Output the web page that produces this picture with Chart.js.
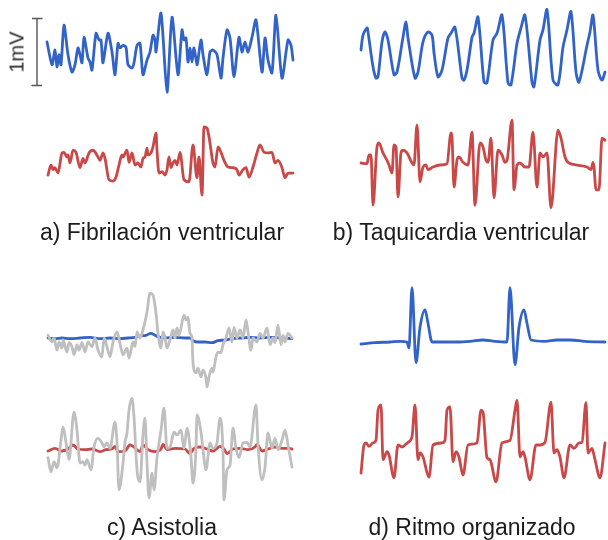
<!DOCTYPE html>
<html>
<head>
<meta charset="utf-8">
<script src="https://cdn.jsdelivr.net/npm/chart.js@4"></script>
<style>
  html, body { margin: 0; padding: 0; background: #fff; }
  #fig { position: relative; width: 608px; height: 540px; overflow: hidden; background: #fff; }
  #fig canvas { position: absolute; }
  .lbl { position: absolute; height: 28px; line-height: 28px; font-family: 'Liberation Sans', Arial, sans-serif;
         font-size: 23px; color: #1c1c1c; white-space: nowrap; transform: translateX(-50%); }
  #unit { position: absolute; left: 17px; top: 52px; font-family: 'Liberation Sans', Arial, sans-serif; font-size: 20px;
          color: #2a2a2a; white-space: nowrap; transform: translate(-50%, -50%) rotate(-90deg); }
</style>
</head>
<body>
<div id="fig">
  <canvas id="vfTop" width="276" height="160"></canvas>
  <canvas id="vfBot" width="276" height="160"></canvas>
  <canvas id="vtTop" width="276" height="160"></canvas>
  <canvas id="vtBot" width="276" height="160"></canvas>
  <canvas id="asTop" width="276" height="160"></canvas>
  <canvas id="asBot" width="276" height="160"></canvas>
  <canvas id="orTop" width="276" height="160"></canvas>
  <canvas id="orBot" width="276" height="160"></canvas>
  <div id="unit">1mV</div>
</div>
<script>
// ==================== DATA (time in ms, amplitude in mV) ====================
const PANEL_TITLES = ['a) Fibrilación ventricular', 'b) Taquicardia ventricular', 'c) Asistolia', 'd) Ritmo organizado'];

const scaleBarT = [-150, -50, -100, -100, -150, -50];
const scaleBarV = [0.5, 0.5, 0.5, -0.5, -0.5, -0.5];

// a) Fibrilacion ventricular
const vfBlueT = [0,50,80,100,120,140,170,210,250,280,310,330,350,370,410,430,450,490,520,540,560,610,650,680,710,730,760,790,810,850,870,900,930,960,1000,1030,1060,1080,1090,1140,1200,1250,1310,1350,1370,1390,1410,1430,1450,1470,1500,1510,1540,1560,1600,1630,1660,1700,1740,1760,1800,1830,1870,1920,1950,1980,2010,2050,2090,2150,2180,2210,2250,2290,2350,2410,2440,2460];
const vfBlueV = [0.15,-0.19,0.03,-0.22,-0.04,-0.19,0.40,-0.04,-0.30,-0.19,0.06,-0.04,-0.16,0.22,-0.09,-0.15,-0.27,0.28,0.18,0.18,-0.16,0.28,0,-0.34,0.13,0.06,0.10,0.07,-0.19,-0.24,-0.16,0.10,0.13,-0.34,-0.12,0,0.25,0.18,0,0.58,-0.60,0.52,-0.34,0.33,0.18,0.21,-0.15,0.06,-0.15,0.06,-0.19,-0.12,0.18,-0.04,-0.34,0,0.03,-0.04,-0.39,-0.09,0.33,0.21,-0.37,0.22,0,0.15,0,0.22,0.48,-0.30,0.21,-0.12,-0.31,0.55,-0.39,0.18,0.10,-0.12];
const vfRedT = [10,40,60,80,110,150,170,200,210,230,260,290,330,360,380,420,460,510,530,560,580,620,660,690,720,750,760,800,820,850,880,910,940,960,980,1000,1010,1040,1060,1090,1100,1120,1150,1180,1200,1220,1240,1260,1280,1300,1330,1370,1420,1460,1500,1520,1550,1570,1600,1620,1660,1680,1710,1740,1770,1810,1860,1900,1920,1960,1990,2020,2060,2100,2130,2170,2210,2250,2280,2310,2350,2380,2410,2460];
const vfRedV = [-0.18,-0.03,-0.10,-0.07,-0.15,0.15,0.16,0.09,0.12,0,0.19,0.16,-0.07,0.07,0,0.15,0.19,0.09,0.04,0.15,0.07,-0.25,-0.27,-0.21,-0.03,0.12,0.09,0.19,0.01,0.15,-0.03,0,-0.06,0.07,0.09,0.22,0.12,0.15,0.24,0.45,0.19,-0.15,-0.13,-0.18,-0.10,0.09,-0.07,0,0.04,-0.03,0.16,-0.25,-0.28,0.27,-0.22,0.09,-0.48,0.54,0.52,0.39,0,-0.06,0.24,0.16,0.04,-0.06,-0.07,-0.10,-0.18,-0.10,-0.07,-0.21,-0.06,0.15,0.27,0.16,0.15,0.16,0,0.04,-0.07,-0.22,-0.15,-0.15];

// b) Taquicardia ventricular
const vtBlueT = [0,20,60,70,120,150,170,210,240,270,330,360,420,450,470,540,570,620,670,710,730,770,810,870,900,940,1010,1030,1060,1110,1130,1170,1230,1260,1320,1360,1410,1470,1500,1560,1600,1640,1710,1730,1790,1820,1860,1920,1970,2020,2060,2100,2150,2180,2260,2290,2320,2370,2410,2440];
const vtBlueV = [0,0.22,0.33,0.27,-0.25,-0.42,-0.40,0.12,0.27,0.15,-0.37,-0.33,0.19,0.42,0.18,-0.42,-0.33,0.12,0.27,0.22,-0.04,-0.40,-0.30,0.18,0.25,0.34,-0.42,-0.45,-0.30,0.19,0.25,0.49,-0.48,-0.49,0.15,0.25,0.52,-0.49,-0.52,0.10,0.33,0.52,-0.48,-0.55,0.15,0.30,0.60,-0.45,-0.52,0.04,0.30,0.57,-0.33,-0.48,0.07,0.27,0.52,-0.30,-0.45,-0.33];
const vtRedT = [0,60,80,100,120,160,180,220,260,280,310,330,350,370,400,420,460,510,530,560,590,620,650,670,720,790,860,900,910,930,960,980,1020,1070,1110,1140,1190,1220,1250,1270,1300,1330,1370,1410,1440,1460,1510,1530,1560,1590,1640,1680,1720,1760,1790,1820,1860,1900,1970,2000,2040,2070,2160,2260,2300,2320,2330,2350,2380,2410,2440];
const vtRedV = [0,-0.01,0.12,0.12,-0.63,0.24,0.30,0.15,0.04,-0.03,-0.15,0.27,0.24,-0.51,0.15,0.19,0.15,0,-0.03,0.57,-0.28,-0.06,-0.03,-0.10,-0.06,-0.03,-0.01,0.45,0.39,-0.36,0.04,0.09,0.01,-0.03,0.46,-0.63,0.30,0.24,0.04,0.01,0.37,-0.52,0.19,0.12,0.01,0.04,0.64,-0.40,-0.03,0,-0.06,-0.06,0.46,-0.36,0.15,0.09,0.15,-0.67,0.49,0.37,0.09,0.01,-0.03,-0.06,-0.10,0.01,-0.06,-0.40,-0.40,0.37,0.34];

// c) Asistolia
const asBlueT = [10,80,150,230,330,430,530,630,730,810,880,930,990,1040,1080,1130,1180,1280,1380,1430,1460,1510,1580,1650,1710,1780,1850,1930,2030,2130,2230,2330,2450];
const asBlueV = [0,-0.01,0,-0.01,0,0.01,-0.01,0,-0.01,0,0.01,0.03,0.04,0.07,0.04,0.01,0,0.01,0,0,-0.04,-0.06,-0.06,-0.07,-0.04,-0.03,-0.01,0,0.01,0,0.01,0,-0.01];
const asGrayTopT = [10,50,70,100,120,150,160,200,220,250,270,300,320,350,380,410,450,480,510,550,570,600,630,660,700,740,760,800,820,860,880,900,930,960,1000,1030,1060,1090,1110,1140,1160,1180,1200,1230,1260,1280,1300,1320,1370,1390,1410,1430,1450,1460,1490,1510,1540,1560,1590,1600,1620,1650,1660,1690,1710,1740,1760,1790,1820,1850,1870,1900,1930,1960,1990,2010,2040,2060,2100,2130,2160,2200,2230,2260,2280,2310,2340,2360,2380,2410,2450];
const asGrayTopV = [0.04,-0.06,0,-0.18,-0.06,-0.15,-0.03,-0.21,-0.07,-0.13,-0.25,-0.10,-0.18,-0.07,-0.21,-0.06,-0.13,0,-0.18,-0.28,0,-0.13,-0.28,-0.06,0.09,-0.15,-0.25,-0.15,-0.30,-0.06,-0.13,0.09,0,0.12,0.39,0.67,0.64,0.37,0.07,-0.15,0.09,0.01,-0.15,-0.03,0.12,0,0.15,0.04,0.34,0.27,0.31,0.07,0,-0.37,-0.52,-0.45,-0.58,-0.48,-0.60,-0.73,-0.58,-0.45,-0.51,-0.28,-0.21,-0.22,-0.10,0,0.15,-0.06,0.16,0,0.12,0,0.27,0.09,-0.18,0,-0.06,0.07,0,0.15,-0.10,0,-0.07,0.19,-0.10,0.04,-0.06,0.07,0];
const asRedT = [10,80,150,210,260,310,380,450,530,590,650,680,710,780,830,870,930,960,1010,1080,1140,1160,1200,1280,1380,1430,1470,1530,1600,1660,1730,1770,1800,1860,1930,2010,2080,2100,2150,2210,2280,2350,2410,2450];
const asRedV = [-0.03,0.01,-0.03,0,0.06,0,-0.01,0,-0.04,-0.01,0,0.04,-0.04,-0.03,0.06,0.03,-0.04,0.06,-0.01,-0.04,0,0.07,-0.01,0.01,0,-0.07,0.01,0.03,0,-0.03,0.04,0,-0.07,0,0.01,-0.01,0.03,0.07,-0.03,0,0.03,0.01,0.01,0];
const asGrayBotT = [10,40,70,100,140,160,190,220,270,300,330,360,380,400,440,470,510,550,570,600,630,680,700,720,760,780,800,820,850,870,900,930,960,980,1000,1020,1050,1070,1100,1140,1170,1200,1230,1270,1300,1340,1370,1400,1440,1460,1490,1500,1540,1560,1590,1630,1660,1700,1730,1760,1770,1800,1830,1860,1890,1920,1960,2000,2030,2090,2110,2150,2180,2210,2250,2280,2310,2350,2380,2410,2450];
const asGrayBotV = [-0.13,-0.34,-0.19,-0.28,0.13,0.33,0.10,-0.16,0.55,0.28,-0.21,-0.19,-0.24,-0.16,-0.31,0.03,0.16,0.09,0.03,0.09,0.01,0.40,0.09,-0.61,-0.21,0.10,0.24,0.58,0.76,0.48,-0.31,-0.49,0.21,0.46,-0.21,-0.73,-0.36,-0.61,-0.13,0.28,0.61,0.01,0.03,0.25,0.21,0.28,0.01,0.31,-0.12,-0.51,0.01,0.51,0.25,-0.01,-0.31,0.09,0.01,0.09,0.46,-0.04,-0.76,-0.31,-0.24,0.31,0.01,-0.13,0.09,0.10,0.03,0.66,0.06,-0.46,-0.27,0.24,0.01,0.16,-0.01,0.13,0.28,0.06,-0.27];

// d) Ritmo organizado
const orBlueT = [0,140,290,390,460,480,510,550,590,640,670,710,840,960,1090,1220,1340,1460,1490,1540,1580,1630,1660,1700,1840,1960,2090,2240,2440];
const orBlueV = [-0.03,-0.01,0,0.01,0,-0.09,0.81,-0.31,0.22,0.48,0.28,0,0,0,0.01,0.03,0.01,0,0.81,-0.34,0.22,0.48,0.28,0.03,0.01,0.03,0.03,0.01,0];
const orRedT = [0,30,50,80,120,150,170,200,220,260,280,330,370,410,470,510,540,570,590,620,680,720,810,840,860,890,920,950,980,1020,1070,1160,1200,1220,1260,1290,1350,1410,1490,1540,1560,1590,1620,1640,1690,1750,1790,1840,1900,1930,1960,1990,2030,2090,2130,2180,2210,2250,2270,2310,2340,2390,2440];
const orRedV = [-0.36,0.06,0.09,0.04,0.09,0.13,0.58,0.66,-0.16,-0.04,-0.09,-0.43,0.06,0.03,0.10,0.18,0.66,-0.16,-0.06,-0.12,-0.42,0.06,0.09,0.13,0.58,0.63,-0.19,-0.04,-0.12,-0.39,0.06,0.09,0.58,0.55,-0.13,-0.16,-0.49,0.09,0.13,0.58,0.73,-0.12,-0.04,-0.12,-0.46,0.06,0.06,0.10,0.70,-0.06,-0.01,-0.12,-0.43,0.06,0.01,0.09,0.10,0.69,-0.06,0.01,-0.16,-0.43,0.09];

// ==================== STYLE ====================
const BLUE = '#3263c9';
const RED = '#c94848';
const GRAY = '#bfbfbf';
const PX_PER_MV = 67;
const PX_PER_MS = 0.1;

function series(t, v, color, extra = {}) {
  return Object.assign({
    data: t.map((x, i) => ({ x, y: v[i] })),
    borderColor: color,
    borderWidth: 2.8,
    pointRadius: 0,
    fill: false,
    clip: false,
    cubicInterpolationMode: 'monotone',
    borderJoinStyle: 'round',
    borderCapStyle: 'round'
  }, extra);
}

// smooth sine-like rhythm reads better with plain bezier tension
const smooth = { cubicInterpolationMode: 'default', tension: 0.3 };

// canvas placed so that t=0 sits at x0 and 0 mV sits at baseY
function drawTrace(id, x0, baseY, datasets) {
  const cv = document.getElementById(id);
  const padLeft = 20, above = 70;
  cv.style.left = (x0 - padLeft) + 'px';
  cv.style.top = (baseY - above) + 'px';
  const tMin = -padLeft / PX_PER_MS;
  return new Chart(cv, {
    type: 'line',
    data: { datasets },
    options: {
      responsive: false,
      animation: false,
      events: [],
      layout: { padding: 0 },
      plugins: { legend: { display: false }, tooltip: { enabled: false } },
      scales: {
        x: { type: 'linear', display: false, min: tMin, max: tMin + cv.width / PX_PER_MS },
        y: { type: 'linear', display: false, min: -(cv.height - above) / PX_PER_MV, max: above / PX_PER_MV }
      }
    }
  });
}

const charts = {};
charts.vfTop = drawTrace('vfTop', 47, 52, [
  series(vfBlueT, vfBlueV, BLUE, { tension: 0.25, cubicInterpolationMode: 'default' }),
  series(scaleBarT, scaleBarV, '#555', { borderWidth: 1.4, cubicInterpolationMode: 'default', tension: 0, borderCapStyle: 'butt' })
]);
charts.vfBot = drawTrace('vfBot', 47, 163, [series(vfRedT, vfRedV, RED)]);
charts.vtTop = drawTrace('vtTop', 361, 50, [series(vtBlueT, vtBlueV, BLUE, smooth)]);
charts.vtBot = drawTrace('vtBot', 361, 163, [series(vtRedT, vtRedV, RED)]);
charts.asTop = drawTrace('asTop', 47, 338, [series(asGrayTopT, asGrayTopV, GRAY), series(asBlueT, asBlueV, BLUE)]);
charts.asBot = drawTrace('asBot', 47, 449, [series(asGrayBotT, asGrayBotV, GRAY), series(asRedT, asRedV, RED)]);
charts.orTop = drawTrace('orTop', 361, 342, [series(orBlueT, orBlueV, BLUE)]);
charts.orBot = drawTrace('orBot', 361, 449, [series(orRedT, orRedV, RED)]);

// panel captions
const captionPos = [[162, 218], [461, 218], [162, 513], [472, 513]];
PANEL_TITLES.forEach((txt, i) => {
  const d = document.createElement('div');
  d.className = 'lbl';
  d.textContent = txt;
  d.style.left = captionPos[i][0] + 'px';
  d.style.top = captionPos[i][1] + 'px';
  document.getElementById('fig').appendChild(d);
});
</script>
</body>
</html>
